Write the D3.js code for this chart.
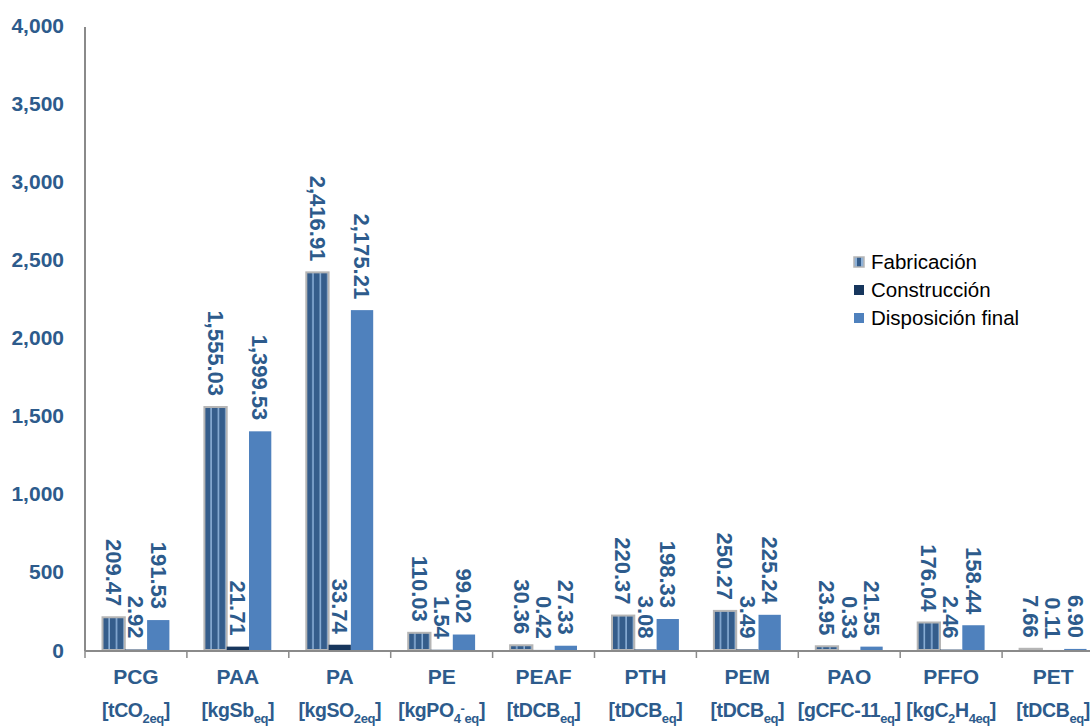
<!DOCTYPE html>
<html>
<head>
<meta charset="utf-8">
<script src="https://cdn.jsdelivr.net/npm/d3@7"></script>
<style>
  html, body { margin: 0; padding: 0; background: #fff; }
  svg { display: block; font-family: "Liberation Sans", Arial, sans-serif; }
</style>
</head>
<body>
<svg id="chart" width="1090" height="727"></svg>
<script>
// Impact categories (short name + unit parts: [text, kind] where kind = n | sub | sup)
const categories = ["PCG", "PAA", "PA", "PE", "PEAF", "PTH", "PEM", "PAO", "PFFO", "PET"];
const units = [
  [["[tCO", "n"], ["2eq", "sub"], ["]", "n"]],
  [["[kgSb", "n"], ["eq", "sub"], ["]", "n"]],
  [["[kgSO", "n"], ["2eq", "sub"], ["]", "n"]],
  [["[kgPO", "n"], ["4", "sub"], ["-", "sup"], ["eq", "sub"], ["]", "n"]],
  [["[tDCB", "n"], ["eq", "sub"], ["]", "n"]],
  [["[tDCB", "n"], ["eq", "sub"], ["]", "n"]],
  [["[tDCB", "n"], ["eq", "sub"], ["]", "n"]],
  [["[gCFC-11", "n"], ["eq", "sub"], ["]", "n"]],
  [["[kgC", "n"], ["2", "sub"], ["H", "n"], ["4eq", "sub"], ["]", "n"]],
  [["[tDCB", "n"], ["eq", "sub"], ["]", "n"]]
];

const seriesNames = ["Fabricación", "Construcción", "Disposición final"];
const fabricacion = [209.47, 1555.03, 2416.91, 110.03, 30.36, 220.37, 250.27, 23.95, 176.04, 7.66];
const construccion = [2.92, 21.71, 33.74, 1.54, 0.42, 3.08, 3.49, 0.33, 2.46, 0.11];
const disposicion = [191.53, 1399.53, 2175.21, 99.02, 27.33, 198.33, 225.24, 21.55, 158.44, 6.90];
const seriesValues = [fabricacion, construccion, disposicion];

const yTicks = [0, 500, 1000, 1500, 2000, 2500, 3000, 3500, 4000];

const textBlue = "#2d5b8c";
const axisGray = "#8a8a8a";

const svg = d3.select("#chart");

// Striped fill for Fabricación
const defs = svg.append("defs");
const pat = defs.append("pattern")
  .attr("id", "stripes")
  .attr("patternUnits", "objectBoundingBox")
  .attr("patternContentUnits", "objectBoundingBox")
  .attr("width", 1 / 3).attr("height", 1);
pat.append("rect").attr("x", 0).attr("y", 0).attr("width", 1 / 3).attr("height", 1).attr("fill", "#355d8b");
pat.append("rect").attr("x", 0.27).attr("y", 0).attr("width", 0.055).attr("height", 1).attr("fill", "#a3c6ec");

const legendPat = defs.append("pattern")
  .attr("id", "stripesLegend")
  .attr("patternUnits", "objectBoundingBox")
  .attr("patternContentUnits", "objectBoundingBox")
  .attr("width", 1).attr("height", 1);
legendPat.append("rect").attr("width", 1).attr("height", 1).attr("fill", "#8fb2d8");
legendPat.append("rect").attr("x", 0.3).attr("width", 0.4).attr("height", 1).attr("fill", "#355d8b");

const fills = ["url(#stripes)", "#17365d", "#4f81bd"];
const legendFills = ["url(#stripesLegend)", "#17365d", "#4f81bd"];

// Scales
const x0 = d3.scaleBand().domain(categories).range([85, 1104]).paddingInner(0).paddingOuter(0);
const bw = x0.bandwidth();
const x1 = d3.scaleBand().domain(seriesNames).range([17.5, bw - 17.5]).padding(0);
const y = d3.scaleLinear().domain([0, 4000]).range([650, 25]);

// Y axis
const yAxis = svg.append("g");
yAxis.append("line")
  .attr("x1", 85).attr("x2", 85).attr("y1", 27).attr("y2", 651)
  .attr("stroke", axisGray).attr("stroke-width", 2);
yAxis.selectAll("text").data(yTicks).join("text")
  .attr("x", 64).attr("y", d => y(d))
  .attr("dy", "0.36em")
  .attr("text-anchor", "end")
  .attr("font-size", 21).attr("font-weight", "bold")
  .attr("fill", textBlue)
  .text(d => d3.format(",")(d));

// Bars
const groups = svg.append("g").selectAll("g").data(categories).join("g")
  .attr("transform", d => `translate(${x0(d)},0)`);

seriesNames.forEach((s, si) => {
  groups.append("rect")
    .attr("x", x1(s))
    .attr("y", (d, i) => y(seriesValues[si][i]))
    .attr("width", x1.bandwidth())
    .attr("height", (d, i) => y(0) - y(seriesValues[si][i]))
    .attr("fill", fills[si])
    .attr("stroke", si === 0 ? "#b5b5b5" : "none")
    .attr("stroke-width", si === 0 ? 2 : 0);
});

// Value labels (vertical, read top-to-bottom)
const fmt = d3.format(",.2f");
seriesNames.forEach((s, si) => {
  groups.append("text")
    .attr("transform", (d, i) => `translate(${x1(s) + x1.bandwidth() / 2},${y(seriesValues[si][i]) - 11}) rotate(90)`)
    .attr("dy", "0.35em")
    .attr("text-anchor", "end")
    .attr("font-size", 22).attr("font-weight", "bold")
    .attr("fill", textBlue)
    .text((d, i) => fmt(seriesValues[si][i]));
});

// X axis
const xAxis = svg.append("g");
xAxis.append("line")
  .attr("x1", 85).attr("x2", 1090).attr("y1", 651).attr("y2", 651)
  .attr("stroke", axisGray).attr("stroke-width", 2);
xAxis.selectAll("line.tick").data(categories).join("line")
  .attr("class", "tick")
  .attr("x1", d => x0(d)).attr("x2", d => x0(d))
  .attr("y1", 651).attr("y2", 658)
  .attr("stroke", axisGray).attr("stroke-width", 1.5);

xAxis.selectAll("text.cat").data(categories).join("text")
  .attr("class", "cat")
  .attr("x", d => x0(d) + bw / 2).attr("y", 684)
  .attr("text-anchor", "middle")
  .attr("font-size", 21).attr("font-weight", "bold")
  .attr("fill", textBlue)
  .text(d => d);

const unitText = xAxis.selectAll("text.unit").data(categories).join("text")
  .attr("class", "unit")
  .attr("x", d => x0(d) + bw / 2).attr("y", 717)
  .attr("text-anchor", "middle")
  .attr("font-size", 19.5).attr("font-weight", "bold")
  .attr("letter-spacing", -0.4)
  .attr("fill", textBlue);

unitText.each(function (d, i) {
  const t = d3.select(this);
  let level = 0; // current baseline offset
  units[i].forEach(([str, kind]) => {
    const target = kind === "sub" ? 6 : kind === "sup" ? -4 : 0;
    t.append("tspan")
      .attr("dy", target - level)
      .attr("font-size", kind === "n" ? 19.5 : 13)
      .text(str);
    level = target;
  });
});

// Legend
const legend = svg.append("g");
const legendY = [262, 290, 318];
seriesNames.forEach((s, si) => {
  legend.append("rect")
    .attr("x", 854).attr("y", legendY[si] - 5)
    .attr("width", 10).attr("height", 10)
    .attr("fill", legendFills[si])
    .attr("stroke", si === 0 ? "#b5b5b5" : "none")
    .attr("stroke-width", si === 0 ? 1.5 : 0);
  legend.append("text")
    .attr("x", 871).attr("y", legendY[si])
    .attr("dy", "0.36em")
    .attr("font-size", 20.5)
    .attr("fill", "#000")
    .text(s);
});
</script>
</body>
</html>
